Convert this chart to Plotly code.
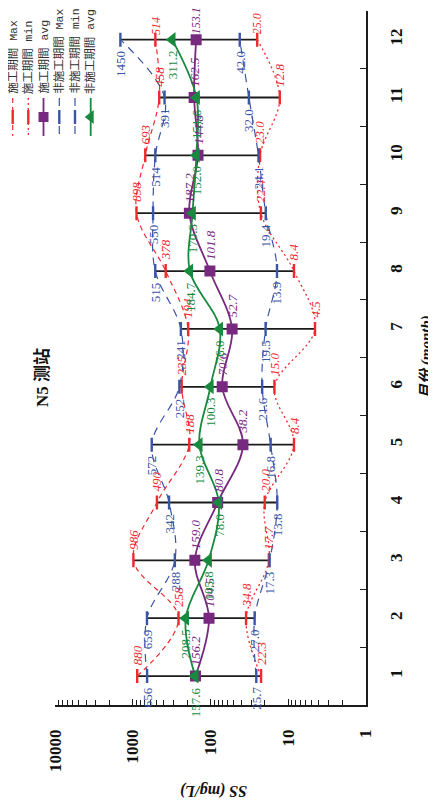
import math
import plotly.graph_objects as go

# ---------------- data ----------------
months = list(range(1, 13))
month_labels = [str(m) for m in months]
ss_tickvals = [1, 10, 100, 1000, 10000]
ss_ticktext = ['1', '10', '100', '1000', '10000']

con_max = [880, 258, 986, 490, 188, 235, 194, 378, 898, 693, 458, 514]
con_min = [22.3, 34.8, 17.7, 20.0, 8.4, 15.0, 4.5, 8.4, 22.4, 23.0, 12.8, 25.0]
con_avg = [156.2, 104.5, 159.0, 80.8, 38.2, 70.6, 52.7, 101.8, 187.2, 144.8, 162.5, 153.1]
non_max = [656, 659, 288, 342, 572, 252, 241, 515, 550, 514, 391, 1450]
non_min = [25.7, 27.0, 17.3, 13.8, 16.8, 21.6, 19.5, 13.9, 19.4, 24.1, 32.0, 42.0]
non_avg = [157.6, 208.5, 105.8, 78.0, 139.3, 100.3, 76.0, 184.7, 170.3, 152.0, 151.6, 311.2]

series_names = ['施工期間 Max', '施工期間 min', '施工期間 avg',
                '非施工期間 Max', '非施工期間 min', '非施工期間 avg']
series_values = [con_max, con_min, con_avg, non_max, non_min, non_avg]

title_text = 'N5 测站'
x_title = 'SS (mg/L)'
y_title = '月份 (month)'

# ---------------- styles ----------------
OFF = 8                      # default page (body) margin
W, H = 436 - OFF, 805 - OFF  # figure size inside the page
RED = '#EE2A2F'
BLUE = '#3B55A6'
PURPLE = '#77287F'
GREEN = '#178A3E'
BLACK = '#1C1C1C'

styles = [
    dict(color=RED, dash='5px,4px', width=1.2, symbol='line-ns', msize=10, italic=True, fmt='{:.0f}', above=True),
    dict(color=RED, dash='2px,3px', width=1.3, symbol='line-ns', msize=10, italic=True, fmt='{:.1f}', above=True),
    dict(color=PURPLE, dash='solid', width=1.8, symbol='square', msize=11, italic=True, fmt='{:.1f}', above=True),
    dict(color=BLUE, dash='8px,6px', width=1.2, symbol='line-ns', msize=10, italic=False, fmt='{:.0f}', above=False),
    dict(color=BLUE, dash='8px,6px', width=1.2, symbol='line-ns', msize=10, italic=False, fmt='{:.1f}', above=False),
    dict(color=GREEN, dash='solid', width=1.8, symbol='triangle-left', msize=13, italic=False, fmt='{:.1f}', above=False),
]

# page pixel -> paper fraction
px_x = lambda p: (p - OFF) / W
px_y = lambda p: 1 - (p - OFF) / H

fig = go.Figure()

# black range bars (overall max -> overall min for each month)
bx, by = [], []
for i, m in enumerate(months):
    hi = max(con_max[i], non_max[i])
    lo = min(con_min[i], non_min[i])
    bx += [hi, lo, None]
    by += [m, m, None]
fig.add_trace(go.Scatter(x=bx, y=by, mode='lines', line=dict(color=BLACK, width=1.8),
                         hoverinfo='skip', showlegend=False))

# series lines
for name, vals, st in zip(series_names, series_values, styles):
    fig.add_trace(go.Scatter(
        x=vals, y=months, mode='lines', name=name, showlegend=False,
        line=dict(color=st['color'], dash=st['dash'], width=st['width'], shape='spline', smoothing=1.0)))
# series markers
for name, vals, st in zip(series_names, series_values, styles):
    if st['symbol'] == 'line-ns':
        mk = dict(symbol='line-ns', size=st['msize'], line=dict(color=st['color'], width=2.4))
    else:
        mk = dict(symbol=st['symbol'], size=st['msize'], color=st['color'], line=dict(width=0))
    fig.add_trace(go.Scatter(x=vals, y=months, mode='markers', name=name, showlegend=False, marker=mk))

# empty trace so that the boundary-tick overlay axis is drawn
fig.add_trace(go.Scatter(x=[None], y=[None], yaxis='y2', mode='markers', showlegend=False, hoverinfo='skip'))

# data labels (labels of the top row sit a little closer so they stay on the page)
annotations = []
for vals, st in zip(series_values, styles):
    for m, v in zip(months, vals):
        top_row = st['above'] and m == months[-1]
        annotations.append(dict(
            x=math.log10(v), y=m, xref='x', yref='y', text=st['fmt'].format(v),
            showarrow=False, textangle=-90, xanchor='center',
            yanchor='bottom' if st['above'] else 'top',
            yshift=(3 if top_row else 9) if st['above'] else -9,
            font=dict(family='Liberation Serif', size=12 if top_row else 13, color=st['color'],
                      style='italic' if st['italic'] else 'normal')))

# ---------------- custom rotated legend ----------------
leg_x = [12.7, 28.3, 43.5, 59.3, 75.0, 90.7]
for xc, name, st in zip(leg_x, series_names, styles):
    fig.add_trace(go.Scatter(x=[xc, xc], y=[98, 136], mode='lines', xaxis='x3', yaxis='y3',
                             showlegend=False, hoverinfo='skip',
                             line=dict(color=st['color'], dash=st['dash'], width=st['width'])))
    if st['symbol'] == 'line-ns':
        mk = dict(symbol='line-ns', size=st['msize'], line=dict(color=st['color'], width=2.4))
    else:
        mk = dict(symbol=st['symbol'], size=st['msize'] - 1, color=st['color'], line=dict(width=0))
    fig.add_trace(go.Scatter(x=[xc], y=[117], mode='markers', xaxis='x3', yaxis='y3',
                             showlegend=False, hoverinfo='skip', marker=mk))
    annotations.append(dict(x=xc, y=96, xref='x3', yref='y3', text=name, showarrow=False,
                            textangle=-90, xanchor='center', yanchor='bottom',
                            font=dict(family='Liberation Mono, Noto Sans CJK SC', size=11.5, color='#333')))

# titles
annotations.append(dict(x=px_x(42), y=px_y(378), xref='paper', yref='paper', text=title_text,
                        showarrow=False, textangle=-90, xanchor='center', yanchor='middle',
                        font=dict(family='Liberation Serif, Noto Sans CJK SC', size=17, color='#111', weight='bold')))
annotations.append(dict(x=px_x(214), y=px_y(791), xref='paper', yref='paper', text=x_title,
                        showarrow=False, textangle=180, xanchor='center', yanchor='middle',
                        font=dict(family='Liberation Serif', size=16, color='#111', weight='bold', style='italic')))
annotations.append(dict(x=px_x(426), y=px_y(357), xref='paper', yref='paper', text=y_title,
                        showarrow=False, textangle=-90, xanchor='center', yanchor='middle',
                        font=dict(family='Liberation Serif, Noto Sans CJK SC', size=15, color='#111', weight='bold', style='italic')))

minor_vals = [d * 10 ** e for e in range(4) for d in range(2, 10)]
boundaries = [m - 0.5 for m in months] + [months[-1] + 0.5]

fig.update_layout(
    template='none',
    width=W, height=H, margin=dict(l=0, r=0, t=0, b=0, autoexpand=False),
    paper_bgcolor='white', plot_bgcolor='white', showlegend=False,
    annotations=annotations,
    xaxis=dict(type='log', range=[4, 0], domain=[px_x(55.3), px_x(365.7)], anchor='y', automargin=False,
               showline=True, linecolor=BLACK, linewidth=1.5, showgrid=False, zeroline=False,
               tickmode='array', tickvals=ss_tickvals, ticktext=ss_ticktext,
               ticks='inside', ticklen=6, tickwidth=1, tickcolor=BLACK,
               minor=dict(tickmode='array', tickvals=minor_vals, ticks='inside', ticklen=5,
                          tickwidth=1, tickcolor=BLACK, showgrid=False),
               tickangle=-90, ticklabelstandoff=16,
               tickfont=dict(family='Liberation Serif', size=17, color='#111', weight='bold')),
    yaxis=dict(range=[0.5, 12.5], domain=[px_y(705), px_y(10.7)], anchor='x', side='right', automargin=False,
               showline=True, linecolor=BLACK, linewidth=1.5, showgrid=False, zeroline=False,
               tickmode='array', tickvals=months, ticktext=month_labels, ticks='',
               tickangle=-90, ticklabelstandoff=14,
               tickfont=dict(family='Liberation Serif', size=17, color='#111', weight='bold')),
    yaxis2=dict(range=[0.5, 12.5], overlaying='y', anchor='x', side='right', automargin=False,
                showline=False, showgrid=False, zeroline=False,
                tickmode='array', tickvals=boundaries, ticks='inside', ticklen=6,
                tickwidth=1, tickcolor=BLACK, showticklabels=False),
    xaxis3=dict(domain=[0, 110 / W], range=[OFF, OFF + 110], anchor='y3', visible=False,
                fixedrange=True, automargin=False),
    yaxis3=dict(domain=[1 - 140 / H, 1], range=[OFF + 140, OFF], anchor='x3', visible=False,
                fixedrange=True, automargin=False),
)

fig.write_html('out.html')
